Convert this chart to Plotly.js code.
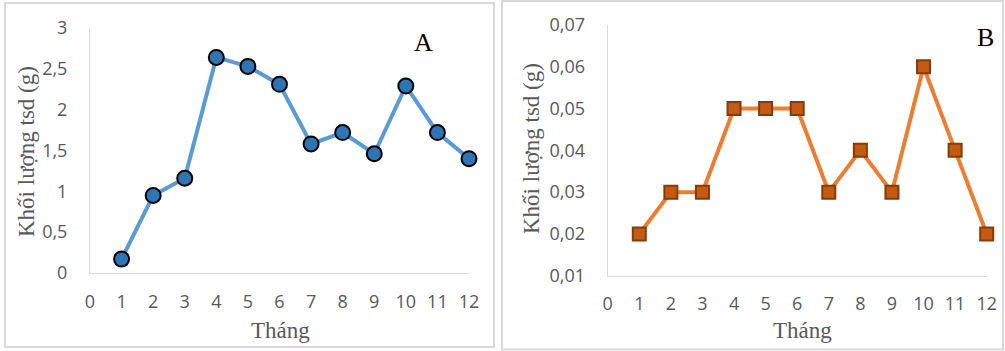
<!DOCTYPE html>
<html>
<head>
<meta charset="utf-8">
<script src="https://cdn.plot.ly/plotly-3.0.1.min.js"></script>
<style>html,body{margin:0;padding:0;background:#fff;}#chart{width:1005px;height:351px;}</style>
</head>
<body>
<div id="chart"></div>
<script>
// ---- data ----
const months = [1, 2, 3, 4, 5, 6, 7, 8, 9, 10, 11, 12];
const massA = [0.17, 0.95, 1.16, 2.64, 2.53, 2.31, 1.58, 1.72, 1.46, 2.29, 1.72, 1.40];
const massB = [0.02, 0.03, 0.03, 0.05, 0.05, 0.05, 0.03, 0.04, 0.03, 0.06, 0.04, 0.02];
const xTickVals = [0, 1, 2, 3, 4, 5, 6, 7, 8, 9, 10, 11, 12];
const xTickText = ["0", "1", "2", "3", "4", "5", "6", "7", "8", "9", "10", "11", "12"];
const yTickValsA = [0, 0.5, 1, 1.5, 2, 2.5, 3];
const yTickTextA = ["0", "0,5", "1", "1,5", "2", "2,5", "3"];
const yTickValsB = [0.01, 0.02, 0.03, 0.04, 0.05, 0.06, 0.07];
const yTickTextB = ["0,01", "0,02", "0,03", "0,04", "0,05", "0,06", "0,07"];
const xTitle = "Tháng";
const yTitle = "Khối lượng tsd (g)";
const panelLabels = ["A", "B"];

// ---- helpers ----
const W = 1005, H = 351;
const px = v => v / W;
const py = v => 1 - v / H;

const tickFont = {family: "Open Sans", size: 18, color: "#595959"};
const titleFont = {family: "Liberation Serif", size: 23, color: "#595959"};

function xAxis(domain, anchor) {
  return {
    domain: domain, anchor: anchor, range: [0, 12],
    tickmode: "array", tickvals: xTickVals, ticktext: xTickText,
    showline: true, linecolor: "#D9D9D9", linewidth: 1,
    showgrid: false, zeroline: false, ticks: "",
    tickfont: tickFont, ticklabelstandoff: 12, fixedrange: true
  };
}
function yAxis(domain, anchor, range, vals, text) {
  return {
    domain: domain, anchor: anchor, range: range,
    tickmode: "array", tickvals: vals, ticktext: text,
    showline: true, linecolor: "#D9D9D9", linewidth: 1,
    showgrid: false, zeroline: false, ticks: "",
    tickfont: tickFont, ticklabelstandoff: 18, fixedrange: true
  };
}

const traces = [
  {
    x: months, y: massA, xaxis: "x", yaxis: "y", type: "scatter", mode: "lines+markers",
    line: {color: "#5B9BD5", width: 4},
    marker: {symbol: "circle", size: 15, color: "#2E75B6", line: {color: "#000000", width: 2}},
    cliponaxis: false, hoverinfo: "x+y"
  },
  {
    x: months, y: massB, xaxis: "x2", yaxis: "y2", type: "scatter", mode: "lines+markers",
    line: {color: "#ED7D31", width: 4},
    marker: {symbol: "square", size: 13, color: "#C55A11", line: {color: "#843C0C", width: 2}},
    cliponaxis: false, hoverinfo: "x+y"
  }
];

const layout = {
  width: W, height: H,
  margin: {l: 0, r: 0, t: 0, b: 0},
  paper_bgcolor: "#ffffff", plot_bgcolor: "rgba(0,0,0,0)",
  showlegend: false,
  xaxis: xAxis([px(90), px(469)], "y"),
  yaxis: yAxis([py(273), py(28)], "x", [0, 3], yTickValsA, yTickTextA),
  xaxis2: xAxis([px(607.7), px(986.7)], "y2"),
  yaxis2: yAxis([py(275.7), py(25)], "x2", [0.01, 0.07], yTickValsB, yTickTextB),
  shapes: [
    {type: "rect", xref: "paper", yref: "paper", x0: px(5), x1: px(494), y0: py(347), y1: py(3),
     line: {color: "#D9D9D9", width: 2}},
    {type: "rect", xref: "paper", yref: "paper", x0: px(502), x1: px(1003), y0: py(349.5), y1: py(1),
     line: {color: "#D9D9D9", width: 2}}
  ],
  annotations: [
    {xref: "paper", yref: "paper", x: px(280), y: py(330), text: xTitle, showarrow: false,
     xanchor: "center", yanchor: "middle", font: titleFont},
    {xref: "paper", yref: "paper", x: px(27), y: py(152), text: yTitle, showarrow: false,
     textangle: -90, xanchor: "center", yanchor: "middle", font: titleFont},
    {xref: "paper", yref: "paper", x: px(802), y: py(330), text: xTitle, showarrow: false,
     xanchor: "center", yanchor: "middle", font: titleFont},
    {xref: "paper", yref: "paper", x: px(531), y: py(149), text: yTitle, showarrow: false,
     textangle: -90, xanchor: "center", yanchor: "middle", font: titleFont},
    {xref: "paper", yref: "paper", x: px(423), y: py(42), text: panelLabels[0], showarrow: false,
     xanchor: "center", yanchor: "middle",
     font: {family: "Liberation Serif", size: 26, color: "#000000"}},
    {xref: "paper", yref: "paper", x: px(985), y: py(38), text: panelLabels[1], showarrow: false,
     xanchor: "center", yanchor: "middle",
     font: {family: "Liberation Serif", size: 26, color: "#000000"}}
  ]
};

Plotly.newPlot("chart", traces, layout, {displayModeBar: false, staticPlot: true});
</script>
</body>
</html>
